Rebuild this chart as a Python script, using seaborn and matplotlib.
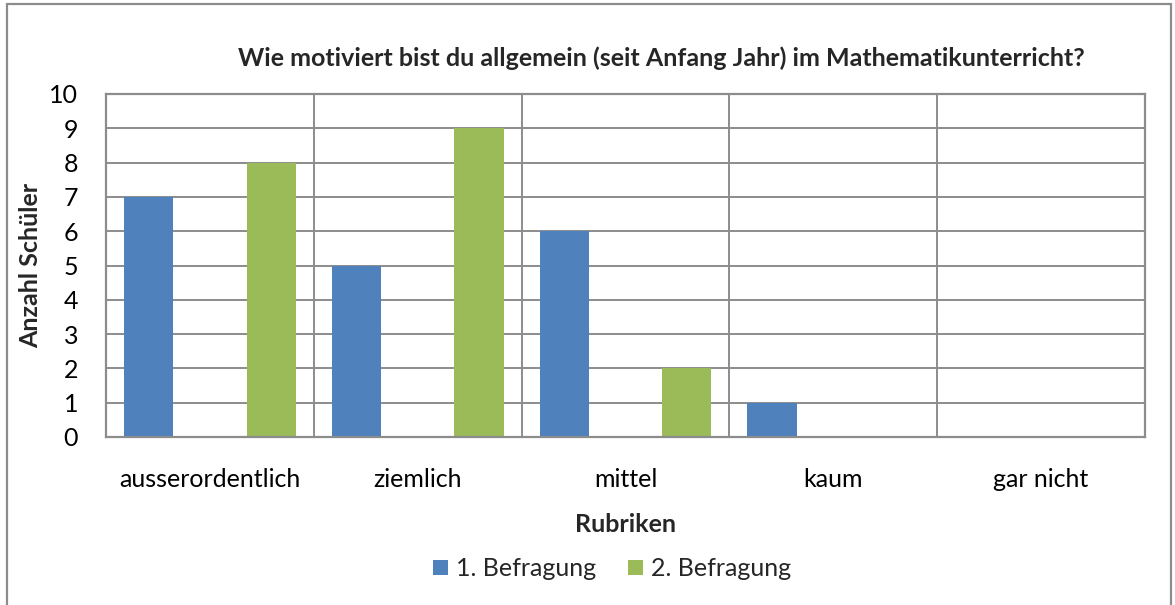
import pandas as pd
import matplotlib.pyplot as plt
import seaborn as sns
from matplotlib.patches import Rectangle

# Data
rubriken = ['ausserordentlich', 'ziemlich', 'mittel', 'kaum', 'gar nicht']
befragung_1 = [7, 5, 6, 1, 0]
befragung_2 = [8, 9, 2, 0, 0]
serien = ['1. Befragung', '2. Befragung']
farben = ['#4F81BD', '#9BBB59']

df = pd.DataFrame({
    'Rubrik': rubriken * 2,
    'Anzahl': befragung_1 + befragung_2,
    'Serie': [serien[0]] * len(rubriken) + [serien[1]] * len(rubriken),
})

sns.set_theme(style='white')
plt.rcParams['font.family'] = ['Lato', 'DejaVu Sans']

fig = plt.figure(figsize=(11.75, 6.05), dpi=100)
ax = fig.add_axes([106 / 1175, 1 - 437 / 605, (1145 - 106) / 1175, (437 - 94) / 605])

sns.barplot(data=df, x='Rubrik', y='Anzahl', hue='Serie', palette=farben,
            width=1.18, gap=0.6, saturation=1, linewidth=0, ax=ax, legend=True)

ax.set_xlim(-0.5, len(rubriken) - 0.5)
ax.set_ylim(0, 10)
ax.set_yticks(range(0, 11))
ax.tick_params(axis='both', length=0, labelsize=18, colors='black')
ax.tick_params(axis='x', pad=22)
ax.tick_params(axis='y', pad=20)

# grid lines: horizontal at each unit, vertical between categories
ax.set_xticks([i + 0.5 for i in range(len(rubriken) - 1)], minor=True)
ax.grid(axis='y', which='major', color='#8c8c8c', linewidth=1.4)
ax.grid(axis='x', which='minor', color='#8c8c8c', linewidth=1.4)
ax.set_axisbelow(True)
for s in ax.spines.values():
    s.set_color('#8c8c8c')
    s.set_linewidth(1.6)

ax.set_xlabel('Rubriken', fontsize=18, fontweight='bold', labelpad=16)
ax.set_ylabel('Anzahl Schüler', fontsize=18, fontweight='bold', labelpad=5)
ax.set_title('Wie motiviert bist du allgemein (seit Anfang Jahr) im Mathematikunterricht?',
             fontsize=18, fontweight='bold', x=0.535, pad=20)

ax.legend(loc='upper center', bbox_to_anchor=(0.487, -0.285), ncol=2, frameon=False,
          fontsize=18, handlelength=0.6, handleheight=0.6, handletextpad=0.3,
          columnspacing=1.3, title=None)

# outer chart border (bottom edge lies outside the picture)
fig.patches.append(Rectangle((7 / 1175, -0.05), (1171 - 7) / 1175, 1.05 - 4 / 605,
                             transform=fig.transFigure, fill=False,
                             edgecolor='#8c8c8c', linewidth=1.6))

fig.savefig('out.png', dpi=100)
